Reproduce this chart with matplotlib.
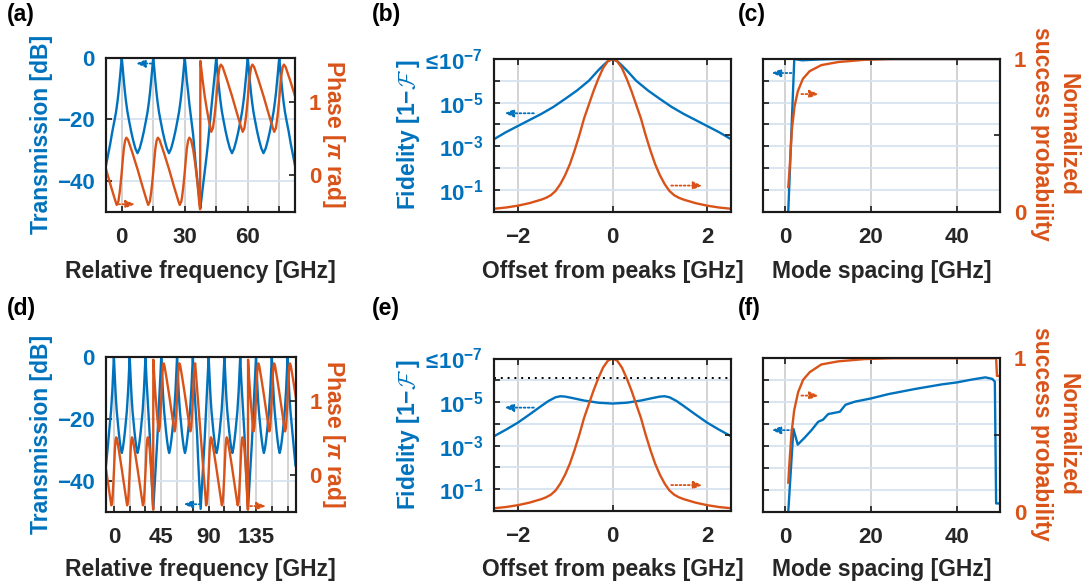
import matplotlib
matplotlib.use("Agg")
import matplotlib.pyplot as plt

BLUE = "#0072BD"
ORANGE = "#D95319"
DARK = "#262626"
W, H = 1083, 586

plt.rcParams["font.family"] = ["Liberation Sans", "DejaVu Sans"]
plt.rcParams["font.weight"] = "bold"
plt.rcParams["mathtext.fontset"] = "custom"
plt.rcParams["mathtext.rm"] = "Liberation Sans:bold"
plt.rcParams["mathtext.bf"] = "Liberation Sans:bold"
plt.rcParams["mathtext.it"] = "Liberation Sans:bold:italic"
plt.rcParams["mathtext.cal"] = "cmsy10"

# ---------------- (a)/(d): transmission [dB] and phase [pi rad] ----------------
# one flank of a resonance, offset from the peak [GHz] -> dB
flank_off = [0.0, 0.3, 0.6, 1.0, 1.5, 2.0, 2.7, 3.5, 4.5, 5.5, 6.5, 7.5]
flank_db = [0.0, -2.0, -4.5, -7.5, -11.0, -14.0, -17.5, -20.5, -24.0, -27.0, -29.5, -31.0]
edge_db = [0.0, -2.0, -4.5, -7.5, -11.0, -14.0, -17.5, -20.5, -24.0, -28.0, -31.5, -35.0]
# gap that holds the deep notch, offset from the preceding peak -> dB
dip_off = [0.3, 0.6, 1.0, 1.6, 2.2, 3.0, 4.0, 5.0, 6.0, 7.0, 7.4, 8.0, 8.7,
           9.5, 10.3, 11.1, 11.9, 12.8, 13.5, 14.0, 14.4, 14.7]
dip_db = [-2.0, -4.5, -7.5, -11.0, -15.0, -19.5, -25.0, -33.0, -40.0, -46.0, -49.0, -45.5, -41.5,
          -37.0, -32.5, -27.5, -21.5, -15.5, -10.5, -7.5, -4.5, -2.0]

# phase sawtooth around each peak, relative to the branch floor
rise_off = [-2.4, -1.6, -1.0, -0.5, 0.0, 0.5, 1.0, 1.6, 2.2]
rise_rel = [0.0, 0.05, 0.17, 0.30, 0.45, 0.62, 0.77, 0.88, 0.92]
fall_off = [3.0, 5.0, 7.5, 10.0, 12.0]
fall_rel = [0.89, 0.72, 0.49, 0.24, 0.05]
# phase across a notch: jump up one branch, or slide down one branch
jump_off = [3.0, 4.0, 5.0, 6.0, 6.8, 7.3, 7.45, 8.5, 9.5, 10.5, 11.5]
jump_val = [0.48, 0.35, 0.15, -0.10, -0.35, -0.47, 1.56, 1.30, 1.08, 0.90, 0.74]
slide_off = [3.0, 5.0, 7.0, 9.0, 11.0, 12.0]
slide_val = [1.36, 0.99, 0.62, 0.25, -0.12, -0.30]

a_peaks = [0, 15, 30, 45, 60, 75]
a_floor = [-0.41, -0.41, -0.41, 0.59, 0.59, 0.59]
a_notch = {30: "jump"}

d_peaks = [0, 15, 30, 45, 60, 75, 90, 105, 120, 135, 150, 165]
d_floor = [-0.41, -0.41, -0.41, 0.59, 0.59, 0.59, -0.41, -0.41, -0.41, 0.59, 0.59, 0.59]
d_notch = {30: "jump", 75: "slide", 120: "jump"}

# ---------------- (b)/(e): fidelity and success vs offset ----------------
fid_b_x = [-2.5, -2.25, -2.0, -1.75, -1.5, -1.25, -1.0, -0.75, -0.5, -0.3, -0.2, -0.1, 0.0,
           0.1, 0.2, 0.3, 0.5, 0.75, 1.0, 1.25, 1.5, 1.75, 2.0, 2.25, 2.5]
fid_b = [4.8e-4, 2.3e-4, 1.2e-4, 6.3e-5, 3.3e-5, 1.6e-5, 6.8e-6, 2.8e-6, 1.0e-6, 3.3e-7, 2.0e-7, 1.26e-7, 1.0e-7,
         1.26e-7, 2.0e-7, 3.3e-7, 1.0e-6, 2.8e-6, 6.8e-6, 1.6e-5, 3.3e-5, 6.3e-5, 1.2e-4, 2.3e-4, 4.8e-4]
fid_e_x = [-2.5, -2.25, -2.0, -1.75, -1.5, -1.35, -1.2, -1.1, -1.0, -0.85, -0.6, -0.3, 0.0,
           0.3, 0.6, 0.85, 1.0, 1.1, 1.2, 1.35, 1.5, 1.75, 2.0, 2.25, 2.5]
fid_e = [3.7e-4, 1.86e-4, 8.9e-5, 3.7e-5, 1.5e-5, 8.9e-6, 6.0e-6, 5.4e-6, 5.6e-6, 6.5e-6, 8.5e-6, 1.07e-5, 1.17e-5,
         1.07e-5, 8.5e-6, 6.5e-6, 5.6e-6, 5.4e-6, 6.0e-6, 8.9e-6, 1.5e-5, 3.7e-5, 8.9e-5, 1.86e-4, 3.7e-4]
fid_e_limit = 7.5e-7
succ_x = [-2.5, -2.25, -2.0, -1.75, -1.5, -1.4, -1.3, -1.2, -1.1, -1.0, -0.9, -0.8, -0.7, -0.6, -0.5,
          -0.4, -0.3, -0.2, -0.1, 0.0, 0.1, 0.2, 0.3, 0.4, 0.5, 0.6, 0.7, 0.8, 0.9, 1.0,
          1.1, 1.2, 1.3, 1.4, 1.5, 1.75, 2.0, 2.25, 2.5]
succ = [0.018, 0.026, 0.038, 0.055, 0.078, 0.09, 0.107, 0.135, 0.18, 0.238, 0.31, 0.40, 0.50, 0.61, 0.70,
        0.79, 0.87, 0.94, 0.985, 1.0, 0.985, 0.94, 0.87, 0.79, 0.70, 0.61, 0.50, 0.40, 0.31, 0.238,
        0.18, 0.135, 0.107, 0.09, 0.078, 0.055, 0.038, 0.026, 0.018]

# ---------------- (c)/(f): fidelity and success vs mode spacing ----------------
fid_c_x = [0.8, 2.2, 4.0, 8.0, 12.0, 50.0]
fid_c = [1.0, 1.0e-7, 1.15e-7, 1.05e-7, 1.0e-7, 1.0e-7]
succ_c_x = [0.8, 1.1, 1.34, 1.65, 2.26, 3.04, 4.2, 5.76, 8.5, 12.4, 18.6, 25.0, 50.0]
succ_c = [0.16, 0.27, 0.39, 0.54, 0.69, 0.79, 0.87, 0.92, 0.96, 0.98, 0.995, 1.0, 1.0]
fid_f_x = [0.8, 2.0, 3.0, 4.65, 6.2, 7.75, 8.9, 9.7, 10.1, 12.8, 13.4, 14.1, 16.3, 20.0,
           24.1, 30.3, 36.5, 40.0, 43.5, 46.6, 48.2, 48.8, 49.1, 50.0]
fid_f = [1.0, 1.66e-4, 8.7e-4, 4.1e-4, 1.9e-4, 7.9e-5, 6.3e-5, 4.2e-5, 3.5e-5, 2.75e-5, 1.95e-5, 1.32e-5, 9.5e-6, 6.8e-6,
         4.3e-6, 2.5e-6, 1.55e-6, 1.26e-6, 9.3e-7, 7.4e-7, 8.7e-7, 1.17e-6, 0.42, 0.42]
succ_f_x = [0.8, 1.1, 1.55, 2.17, 3.1, 4.26, 5.8, 8.5, 12.4, 18.6, 25.0, 49.1, 49.3, 50.0]
succ_f = [0.19, 0.33, 0.51, 0.66, 0.78, 0.86, 0.91, 0.96, 0.98, 0.995, 1.0, 1.0, 0.885, 0.885]

log_ticks = [1e-7, 1e-6, 1e-5, 1e-4, 1e-3, 1e-2, 1e-1]
log_labels = [r"$\leq\!10^{-7}$", "", r"$10^{-5}$", "", r"$10^{-3}$", "", r"$10^{-1}$"]


def transmission(peaks, notches):
    x = [peaks[0] - o for o in flank_off[::-1]]
    y = edge_db[::-1]
    for p, q in zip(peaks[:-1], peaks[1:]):
        if p in notches:
            x += [p + o for o in dip_off]
            y += dip_db
        else:
            x += [p + o for o in flank_off[1:]] + [q - o for o in flank_off[-2:0:-1]]
            y += flank_db[1:] + flank_db[-2:0:-1]
        x.append(q)
        y.append(0.0)
    x += [peaks[-1] + o for o in flank_off[1:]]
    y += edge_db[1:]
    return x, y


def phase(peaks, floors, notches):
    x = [peaks[0] - 15 + o for o in fall_off]
    y = [floors[0] + r for r in fall_rel]
    for p, m in zip(peaks, floors):
        x += [p + o for o in rise_off]
        y += [m + r for r in rise_rel]
        kind = notches.get(p)
        if kind == "jump":
            x += [p + o for o in jump_off]
            y += jump_val
        elif kind == "slide":
            x += [p + o for o in slide_off]
            y += slide_val
        else:
            x += [p + o for o in fall_off]
            y += [m + r for r in fall_rel]
    return x, y


fig = plt.figure(figsize=(W / 100, H / 100), dpi=100)


def ftext(x, y, s, **kw):
    fig.text(x / W, 1 - y / H, s, **kw)


def frame(l, r, t, b):
    ax = fig.add_axes([l / W, 1 - b / H, (r - l) / W, (b - t) / H])
    tw = ax.twinx()
    for a in (ax, tw):
        for s in a.spines.values():
            s.set_color("#1a1a1a")
            s.set_linewidth(1.5)
        a.tick_params(direction="in", length=4, width=1.2, color="#1a1a1a", labelsize=16)
    ax.tick_params(axis="x", top=True, labelcolor=DARK, pad=11)
    ax.tick_params(axis="y", labelcolor=BLUE, pad=8)
    tw.tick_params(axis="y", labelcolor=ORANGE, pad=10)
    ax.set_axisbelow(True)
    ax.grid(axis="x", color="#d0d0d0", lw=1.3)
    ax.grid(axis="y", color="#d5e4f1", lw=1.3)
    return ax, tw


def arrow(a, tail, head, y, color):
    a.annotate("", xy=(head, y), xytext=(tail, y),
               arrowprops=dict(arrowstyle="-|>,head_length=0.6,head_width=0.25", color=color, lw=1.3,
                               ls=(0, (1, 1.3)), mutation_scale=9, shrinkA=0, shrinkB=0))


def freq_panel(rect, peaks, floors, notches, xlim, step, arrows):
    ax, tw = frame(*rect)
    x, y = transmission(peaks, notches)
    ax.plot(x, y, color=BLUE, lw=1.7)
    x, y = phase(peaks, floors, notches)
    tw.plot(x, y, color=ORANGE, lw=1.7)
    ax.set_xlim(*xlim)
    ax.set_ylim(-50, 0)
    tw.set_ylim(-0.5, 1.6)
    ticks = list(range(0, int(xlim[1]), 15))
    ax.set_xticks(ticks)
    ax.set_xticklabels([str(t) if t % step == 0 else "" for t in ticks])
    ax.set_yticks([-40, -20, 0])
    tw.set_yticks([0, 1])
    arrow(ax, *arrows[0], BLUE)
    arrow(tw, *arrows[1], ORANGE)
    return ax, tw


def log_panel(rect, xlim, xticks, left_labels, right_labels):
    ax, tw = frame(*rect)
    ax.set_yscale("log")
    ax.set_ylim(1, 1e-7)
    ax.set_yticks(log_ticks)
    ax.set_yticklabels(log_labels if left_labels else [""] * len(log_ticks))
    ax.minorticks_off()
    tw.set_ylim(0, 1)
    tw.set_yticks([0, 0.5, 1])
    tw.set_yticklabels(["0", "", "1"] if right_labels else ["", "", ""])
    ax.set_xlim(*xlim)
    ax.set_xticks(xticks)
    return ax, tw


# (a)
freq_panel((106, 295, 58, 211.5), a_peaks, a_floor, a_notch, (-7.5, 82.5), 30,
           [(14.2, 6.8, -1.8), (-1.6, 6.3, -0.40)])
# (d)
freq_panel((106, 295.5, 356.7, 512), d_peaks, d_floor, d_notch, (-7.5, 172.5), 45,
           [(82.3, 66.0, -47.5), (129.5, 144.5, -0.42)])

# (b)
ax, tw = log_panel((494, 731, 59, 211.5), (-2.5, 2.5), [-2, 0, 2], True, False)
ax.plot(fid_b_x, fid_b, color=BLUE, lw=1.7)
tw.plot(succ_x, succ, color=ORANGE, lw=1.7)
arrow(ax, -1.66, -2.28, 3.1e-5, BLUE)
arrow(tw, 1.24, 1.9, 0.17, ORANGE)
# (e)
ax, tw = log_panel((494, 731, 358.5, 511), (-2.5, 2.5), [-2, 0, 2], True, False)
ax.axhline(fid_e_limit, color="k", lw=1.4, ls=(0, (1, 2.5)))
ax.plot(fid_e_x, fid_e, color=BLUE, lw=1.7)
tw.plot(succ_x, succ, color=ORANGE, lw=1.7)
arrow(ax, -1.66, -2.28, 1.8e-5, BLUE)
arrow(tw, 1.24, 1.9, 0.17, ORANGE)
# (c)
ax, tw = log_panel((763.3, 1000, 59, 211.5), (-5, 50), [0, 20, 40], False, True)
ax.plot(fid_c_x, fid_c, color=BLUE, lw=1.7)
tw.plot(succ_c_x, succ_c, color=ORANGE, lw=1.7)
arrow(ax, 1.55, -3.1, 4.4e-7, BLUE)
arrow(tw, 3.85, 7.9, 0.77, ORANGE)
# (f)
ax, tw = log_panel((763.3, 1000, 358.3, 511.7), (-5, 50), [0, 20, 40], False, True)
ax.plot(fid_f_x, fid_f, color=BLUE, lw=1.7)
tw.plot(succ_f_x, succ_f, color=ORANGE, lw=1.7)
arrow(ax, 1.9, -3.1, 1.9e-4, BLUE)
arrow(tw, 3.85, 7.9, 0.757, ORANGE)

# labels
lab = dict(fontsize=16.5, fontweight="bold", ha="center", va="center")
for yc, yb in [(134, 278), (434, 576)]:
    ftext(42, yc, "Transmission [dB]", color=BLUE, rotation=90, **lab)
    ftext(334, yc, r"Phase [$\pi$ rad]", color=ORANGE, rotation=270, **lab)
    ftext(408, yc, r"Fidelity [1$-\mathcal{F}$ ]", color=BLUE, rotation=90, **lab)
    ftext(1055, yc, "Normalized\nsuccess probability", color=ORANGE, rotation=270, **lab)
    ftext(200.5, yb, "Relative frequency [GHz]", color=DARK, fontsize=16.5, ha="center", va="baseline")
    ftext(612.5, yb, "Offset from peaks [GHz]", color=DARK, fontsize=16.5, ha="center", va="baseline")
    ftext(881.5, yb, "Mode spacing [GHz]", color=DARK, fontsize=16.5, ha="center", va="baseline")
for x, y, s in [(7, 14, "(a)"), (372, 14, "(b)"), (738, 14, "(c)"),
                (7, 309, "(d)"), (372, 309, "(e)"), (738, 309, "(f)")]:
    ftext(x, y, s, color="k", fontsize=16.5, ha="left", va="center")

fig.savefig("out.png", dpi=100)
